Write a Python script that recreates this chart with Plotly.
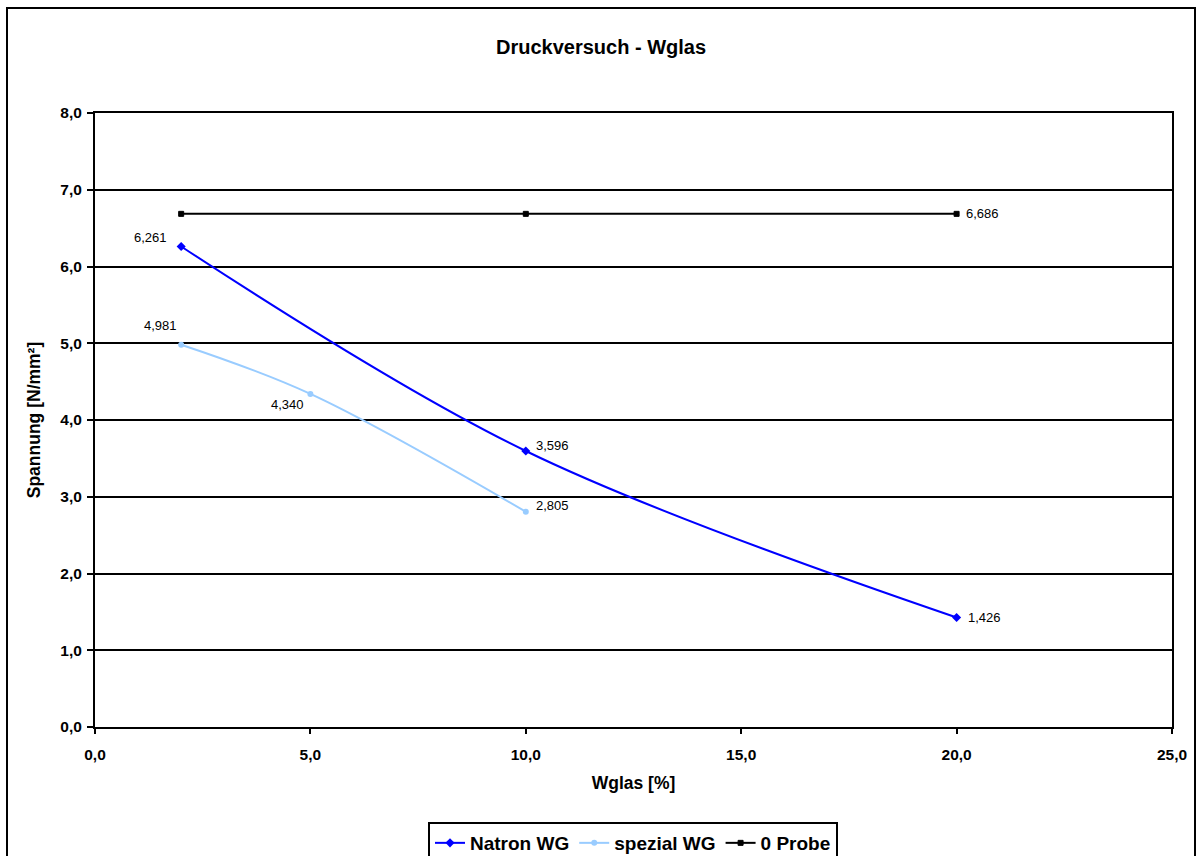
import plotly.graph_objects as go

natron_x = [2, 10, 20]
natron_y = [6.261, 3.596, 1.426]
spezial_x = [2, 5, 10]
spezial_y = [4.981, 4.340, 2.805]
probe_x = [2, 10, 20]
probe_y = [6.686, 6.686, 6.686]

FONT = "Liberation Sans, Arial, sans-serif"

fig = go.Figure()
fig.add_trace(go.Scatter(x=natron_x, y=natron_y, name="Natron WG", mode="lines+markers",
                         line=dict(color="#0000FF", width=2, shape="spline"),
                         marker=dict(symbol="diamond", size=7, color="#0000FF")))
fig.add_trace(go.Scatter(x=spezial_x, y=spezial_y, name="spezial WG", mode="lines+markers",
                         line=dict(color="#99CCFF", width=2, shape="spline"),
                         marker=dict(symbol="circle", size=6, color="#99CCFF")))
fig.add_trace(go.Scatter(x=probe_x, y=probe_y, name="0 Probe", mode="lines+markers",
                         line=dict(color="#000000", width=2),
                         marker=dict(symbol="square", size=5, color="#000000",
                                     line=dict(color="#000000", width=1))))

def fmt(v):
    return f"{v:.3f}".replace(".", ",")

# (x, y, side, x-offset px, y-offset px downward)
labels = [
    (natron_x[0], natron_y[0], "left", -12, -9),
    (natron_x[1], natron_y[1], "right", 8, -6),
    (natron_x[2], natron_y[2], "right", 9, 0),
    (spezial_x[0], spezial_y[0], "left", -2, -19),
    (spezial_x[1], spezial_y[1], "left", -4, 11),
    (spezial_x[2], spezial_y[2], "right", 8, -6),
    (probe_x[2], probe_y[2], "right", 7, 0),
]
for x, y, side, dx, dy in labels:
    fig.add_annotation(x=x, y=y, text=fmt(y), showarrow=False,
                       xanchor="right" if side == "left" else "left", yanchor="middle",
                       xshift=dx, yshift=-dy, font=dict(family=FONT, size=13, color="#000"))

fig.add_shape(type="rect", xref="paper", yref="paper",
              x0=(7 - 95) / 1077, x1=(1195 - 95) / 1077,
              y0=(727 - 880) / 614, y1=(727 - 8) / 614,
              line=dict(color="#000", width=2), fillcolor="rgba(0,0,0,0)", layer="below")

fig.update_layout(
    width=1202, height=856,
    margin=dict(l=95, r=30, t=113, b=129, autoexpand=False),
    paper_bgcolor="white", plot_bgcolor="white",
    separators=",.",
    title=dict(text="<b>Druckversuch - Wglas</b>", x=(604 - 95) / 1077 if False else 0.5, xanchor="center",
               y=1 - 47 / 856, yanchor="middle", font=dict(family=FONT, size=20, color="#000")),
    font=dict(family=FONT, color="#000"),
    showlegend=True,
    legend=dict(orientation="h", x=(633 - 95) / 1077, xanchor="center", y=(727 - 822) / 614, yanchor="top",
                bordercolor="#000", borderwidth=2, bgcolor="white",
                font=dict(family=FONT, size=19, color="#000", weight="bold"),
                itemwidth=30, tracegroupgap=0),
    xaxis=dict(range=[0, 25], dtick=5, tickformat=".1f", showgrid=False, zeroline=False,
               showline=True, linecolor="#000", linewidth=2, mirror=True,
               ticks="outside", ticklen=5, tickcolor="#000", tickwidth=2,
               ticklabelstandoff=7,
               tickfont=dict(family=FONT, size=15.5, color="#000", weight="bold"),
               title=dict(text="<b>Wglas [%]</b>", font=dict(family=FONT, size=17.5, color="#000"), standoff=15)),
    yaxis=dict(range=[0, 8], dtick=1, tickformat=".1f", showgrid=True, gridcolor="#000", gridwidth=1.5,
               zeroline=False, showline=True, linecolor="#000", linewidth=2, mirror=True,
               ticks="outside", ticklen=6, tickcolor="#000", tickwidth=2,
               ticklabelstandoff=2,
               tickfont=dict(family=FONT, size=15.5, color="#000", weight="bold"),
               title=dict(text="<b>Spannung [N/mm²]</b>", font=dict(family=FONT, size=17.5, color="#000"), standoff=15)),
)

fig.write_html("out.html")
